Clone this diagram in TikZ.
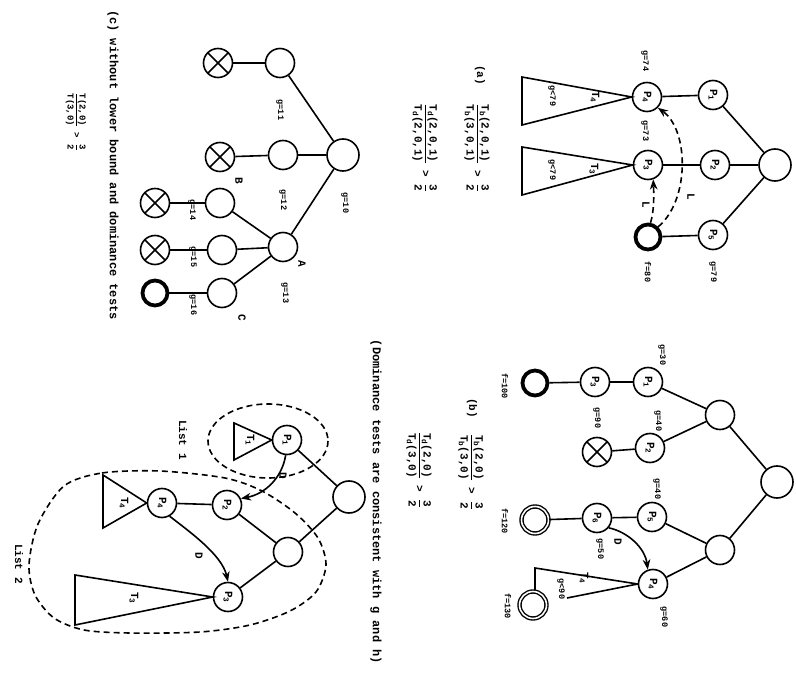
\documentclass[tikz,border=0pt]{standalone}
\usepackage{amsmath}
\usepackage{graphicx}
\usepackage{fontspec}
\setmonofont{Liberation Mono}
\usetikzlibrary{arrows.meta}

\newcommand{\vtext}[1]{\rotatebox{-90}{#1}}
\newcommand{\Pn}[1]{\vtext{P\textsubscript{#1}}}

\tikzset{
  nd/.style={circle,draw,line width=1.6pt,minimum size=29pt,inner sep=0pt,
    font=\ttfamily\bfseries\fontsize{11}{11}\selectfont},
  rt/.style={nd,minimum size=32pt},
  goal/.style={circle,draw,line width=3.8pt,minimum size=25pt,inner sep=0pt},
  dbl/.style={circle,draw,double,double distance=1.6pt,line width=1.4pt,minimum size=27pt,inner sep=0pt},
  cut/.style={nd,path picture={\draw[line width=1.6pt]
    (path picture bounding box.north west) -- (path picture bounding box.south east)
    (path picture bounding box.north east) -- (path picture bounding box.south west);}},
  lnk/.style={line width=1.6pt},
  tri/.style={line width=1.6pt,line join=miter},
  dsh/.style={line width=1.6pt,dash pattern=on 6pt off 4pt},
  lab/.style={rotate=-90,inner sep=1pt,font=\ttfamily\bfseries\fontsize{8.5}{9}\selectfont},
  tl/.style={rotate=-90,inner sep=1pt,font=\ttfamily\bfseries\fontsize{11}{11}\selectfont},
  captxt/.style={rotate=-90,inner sep=0pt,font=\ttfamily\bfseries\fontsize{12}{13}\selectfont},
  frm/.style={rotate=-90,inner sep=0pt,font=\ttfamily\bfseries\fontsize{11}{12}\selectfont},
}

\begin{document}
\begin{tikzpicture}[x=1pt,y=-1pt,>=Stealth,line join=round]
  \useasboundingbox (0,0) rectangle (796,676);

  % (a) lower bound test
  \node[rt] (aR) at (775,165) {};
  \node[nd] (aT) at (713,95) {\Pn{1}};
  \node[nd] (aP2) at (715,165) {\Pn{2}};
  \node[nd] (aP1) at (713,235) {\Pn{5}};
  \node[nd] (aP4) at (647,97) {\Pn{4}};
  \node[nd] (aP3) at (648,165) {\Pn{3}};
  \node[goal] (aF) at (648,237) {};
  \draw[lnk] (aR) -- (aT);
  \draw[lnk] (aR) -- (aP2);
  \draw[lnk] (aR) -- (aP1);
  \draw[lnk] (aT) -- (aP4);
  \draw[lnk] (aP2) -- (aP3);
  \draw[lnk] (aP1) -- (aF);
  \draw[tri] (aP4.west) -- (522,77) -- (522,125) -- cycle;
  \draw[tri] (aP3.west) -- (522,147) -- (522,195) -- cycle;
  \node[tl] at (595,97) {T\textsubscript{4}};
  \node[lab] at (552,96) {g<79};
  \node[tl] at (594,169) {T\textsubscript{3}};
  \node[lab] at (552,170) {g<79};
  \node[lab] at (645,61) {g=74};
  \node[lab] at (645,131) {g=73};
  \node[lab] at (648,272) {f=80};
  \node[lab] at (713,272) {g=79};
  \draw[dsh,->] (aF.north east) .. controls (690,200) and (689,130) .. (aP4.south east);
  \draw[dsh,->] (aF.80) .. controls (654,212) and (654,196) .. (aP3.-70);
  \node[tl] at (691,197) {L};
  \node[tl] at (646,205) {L};
  \node[tl] at (480,75) {(a)};
  \node[frm] at (477,148) {$\dfrac{\text{T\textsubscript{b}(2,0,1)}}{\text{T\textsubscript{b}(3,0,1)}}\text{ > }\dfrac{\text{3}}{\text{2}}$};
  \node[frm] at (425,148) {$\dfrac{\text{T\textsubscript{d}(2,0,1)}}{\text{T\textsubscript{d}(2,0,1)}}\text{ > }\dfrac{\text{3}}{\text{2}}$};

  % (b) lower bound and dominance tests
  \node[rt] (bR) at (777,482) {};
  \node[nd] (bA) at (720,415) {};
  \node[nd] (bB) at (720,550) {};
  \node[nd] (bP1) at (648,382) {\Pn{1}};
  \node[nd] (bP2) at (650,448) {\Pn{2}};
  \node[nd] (bP5) at (652,517) {\Pn{5}};
  \node[nd] (bP4) at (653,584) {\Pn{4}};
  \node[nd] (bP3) at (595,382) {\Pn{3}};
  \node[cut] (bX) at (597,452) {};
  \node[nd] (bP6) at (597,518) {\Pn{6}};
  \node[goal] (bF1) at (535,383) {};
  \node[dbl] (bF2) at (535,520) {};
  \draw[lnk] (bR) -- (bA);
  \draw[lnk] (bR) -- (bB);
  \draw[lnk] (bA) -- (bP1);
  \draw[lnk] (bA) -- (bP2);
  \draw[lnk] (bB) -- (bP5);
  \draw[lnk] (bB) -- (bP4);
  \draw[lnk] (bP1) -- (bP3);
  \draw[lnk] (bP3) -- (bF1);
  \draw[lnk] (bP2) -- (bX);
  \draw[lnk] (bP5) -- (bP6);
  \draw[lnk] (bP6) -- (bF2);
  \draw[tri] (bP4.west) -- (535,568) -- (535,592);
  \draw[tri] (bP4.west) -- (567,598);
  \node[dbl] (bF3) at (533,605) {};
  \node[tl] at (584,578) {T\textsubscript{4}};
  \node[lab] at (561,589) {g<90};
  \draw[->,line width=1.6pt] (bP6.-40) .. controls (628,532) and (645,548) .. (bP4.110);
  \node[tl] at (618,542) {D};
  \node[lab] at (662,355) {g=30};
  \node[lab] at (658,421) {g=40};
  \node[lab] at (597,418) {g=90};
  \node[lab] at (657,489) {g=40};
  \node[lab] at (600,549) {g=50};
  \node[lab] at (664,617) {g=60};
  \node[lab] at (505,386) {f=100};
  \node[lab] at (505,521) {f=120};
  \node[lab] at (508,606) {f=130};
  \node[tl] at (472,408) {(b)};
  \node[frm] at (471,472) {$\dfrac{\text{T\textsubscript{b}(2,0)}}{\text{T\textsubscript{b}(3,0)}}\text{ > }\dfrac{\text{3}}{\text{2}}$};
  \node[frm] at (419,470) {$\dfrac{\text{T\textsubscript{d}(2,0)}}{\text{T\textsubscript{d}(3,0)}}\text{ > }\dfrac{\text{3}}{\text{2}}$};

  % (c) no tests
  \node[rt] (cR) at (343,155) {};
  \node[nd] (c1) at (280,63) {};
  \node[nd] (c2) at (283,155) {};
  \node[nd] (cA) at (283,247) {};
  \node[cut] (cX1) at (218,63) {};
  \node[cut] (cX2) at (220,157) {};
  \node[nd] (cB) at (220,203) {};
  \node[nd] (cM) at (222,250) {};
  \node[nd] (cC) at (222,293) {};
  \node[cut] (cX3) at (155,203) {};
  \node[cut] (cX4) at (155,250) {};
  \node[goal] (cG) at (155,293) {};
  \draw[lnk] (cR) -- (c1);
  \draw[lnk] (cR) -- (c2);
  \draw[lnk] (cR) -- (cA);
  \draw[lnk] (c1) -- (cX1);
  \draw[lnk] (c2) -- (cX2);
  \draw[lnk] (cA) -- (cB);
  \draw[lnk] (cA) -- (cM);
  \draw[lnk] (cA) -- (cC);
  \draw[lnk] (cB) -- (cX3);
  \draw[lnk] (cM) -- (cX4);
  \draw[lnk] (cC) -- (cG);
  \node[lab] at (345,203) {g=10};
  \node[lab] at (280,110) {g=11};
  \node[lab] at (283,200) {g=12};
  \node[lab] at (285,293) {g=13};
  \node[lab] at (192,210) {g=14};
  \node[lab] at (193,257) {g=15};
  \node[lab] at (193,305) {g=16};
  \node[tl] at (302,264) {A};
  \node[tl] at (239,181) {B};
  \node[tl] at (242,318) {C};
  \node[captxt] at (113,165) {(c) without lower bound and dominance tests};
  \node[frm,font=\ttfamily\bfseries\fontsize{9}{10}\selectfont] at (76,122) {$\dfrac{\text{T(2,0)}}{\text{T(3,0)}}\text{ > }\dfrac{\text{3}}{\text{2}}$};

  % (d) lists
  \node[rt] (dR) at (349,497) {};
  \node[nd] (dP1) at (287,440) {\Pn{1}};
  \node[nd] (dM) at (288,552) {};
  \node[nd] (dP2) at (227,505) {\Pn{2}};
  \node[nd] (dP3) at (228,597) {\Pn{3}};
  \node[nd] (dP4) at (162,503) {\Pn{4}};
  \draw[lnk] (dR) -- (dP1);
  \draw[lnk] (dR) -- (dM);
  \draw[lnk] (dM) -- (dP2);
  \draw[lnk] (dM) -- (dP3);
  \draw[lnk] (dP2) -- (dP4);
  \draw[tri] (dP1.west) -- (234,423) -- (234,460) -- cycle;
  \draw[tri] (dP4.west) -- (103,475) -- (103,528) -- cycle;
  \draw[tri] (dP3.west) -- (75,575) -- (75,625) -- cycle;
  \node[tl] at (250,440) {T\textsubscript{1}};
  \node[tl] at (124,503) {T\textsubscript{4}};
  \node[tl] at (134,598) {T\textsubscript{3}};
  \draw[->,line width=1.6pt] (dP1.-95) .. controls (282,478) and (265,494) .. (dP2.25);
  \draw[->,line width=1.6pt] (dP4.-60) .. controls (190,532) and (222,555) .. (dP3.north);
  \node[tl] at (283,476) {D};
  \node[tl] at (199,556) {D};
  \draw[dsh] (268,441) ellipse (60 and 37);
  \draw[dsh] plot[smooth cycle] coordinates {(64,486) (102,473) (160,471) (225,478) (262,491)
    (295,513) (318,538) (326,565) (316,592) (290,611) (250,625) (200,632) (130,633)
    (84,630) (54,618) (35,595) (29,565) (38,524)};
  \node[tl] at (183,440) {List 1};
  \node[tl] at (19,564) {List 2};
  \node[captxt] at (376,502) {(Dominance tests are consistent with g and h)};
\end{tikzpicture}
\end{document}
